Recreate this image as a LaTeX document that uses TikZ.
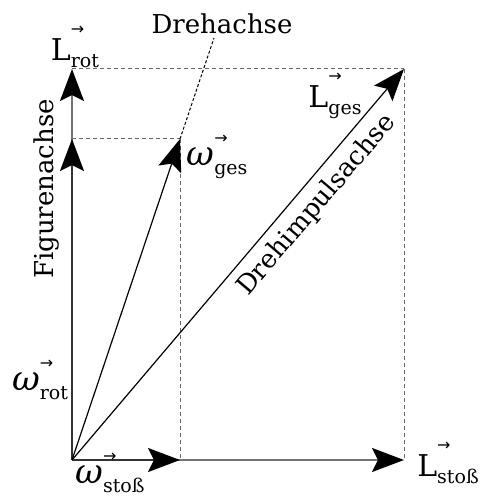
\documentclass[tikz,border=0pt]{standalone}
\usepackage{fontspec}
\setmainfont{DejaVu Serif}
\newfontfamily\arrowfont{DejaVu Sans}
\usetikzlibrary{arrows.meta}

% letter with a small vector arrow and a subscript
\newsavebox\vecletter
\newcommand\veclabel[3][3.5pt]{%
  \sbox\vecletter{\fontsize{15}{18}\selectfont #2}%
  \usebox\vecletter
  \rlap{\raisebox{\dimexpr\ht\vecletter+2pt\relax}{\arrowfont\fontsize{8}{8}\selectfont →}}%
  \raisebox{-#1}{\fontsize{9.5}{11}\selectfont #3}}
\newcommand\omg{\fontsize{17}{18}\selectfont\itshape ω}

\begin{document}
\begin{tikzpicture}[
  x=0.5pt,y=-0.5pt,
  tip/.style={-{Stealth[length=16pt,width=12pt,inset=3pt,black]}},
  waxis/.style={tip,line width=1.1pt,black!80},
  laxis/.style={tip,line width=0.9pt,black!55},
  vec/.style={tip,line width=0.6pt,black},
  guide/.style={dash pattern=on 2pt off 1.5pt,line width=0.5pt,black!60},
  axisline/.style={dash pattern=on 1.5pt off 1pt,line width=0.5pt,black},
  lbl/.style={font=\fontsize{13}{15}\selectfont},
]
\useasboundingbox (0,0) rectangle (480,497);

% Points
\coordinate (O) at (72,460);
\coordinate (wrot) at (72,139);
\coordinate (lrot) at (72,69);
\coordinate (wstoss) at (180,460);
\coordinate (lstoss) at (404,460);
\coordinate (wges) at (180,139);
\coordinate (lges) at (404,69);
\coordinate (dreh) at (214,38);

% Helper lines
\draw[guide] (lrot) -- (lges);
\draw[guide] (wrot) -- (wges);
\draw[guide] (lges) -- (lstoss);
\draw[guide] (wges) -- (wstoss);
\draw[axisline] (wges) -- (dreh);

% Angular momentum
\draw[laxis] (O) -- (lrot);
\draw[laxis] (O) -- (lstoss);
\draw[vec] (O) -- (lges);

% Angular velocity
\draw[waxis] (O) -- (wrot);
\draw[waxis] (O) -- (wstoss);
\draw[vec] (O) -- (wges);

% Labels
\node[lbl] (drehlbl) at (222,24) {Drehachse};
\node[lbl,rotate=90] (figlbl) at (47,189) {Figurenachse};
\node[lbl,rotate=49.7] (impulslbl) at (317,205) {Drehimpulsachse};
\node (lrotlbl) at (75,47) {\veclabel{L}{rot}};
\node (lgeslbl) at (335,96) {\veclabel{L}{ges}};
\node (lstosslbl) at (448,463) {\veclabel{L}{stoß}};
\node (wrotlbl) at (40,380) {\veclabel[4.5pt]{\omg}{rot}};
\node (wgeslbl) at (217,157) {\veclabel[4.5pt]{\omg}{ges}};
\node (wstosslbl) at (110,473) {\veclabel[4.5pt]{\omg}{stoß}};

\end{tikzpicture}
\end{document}
